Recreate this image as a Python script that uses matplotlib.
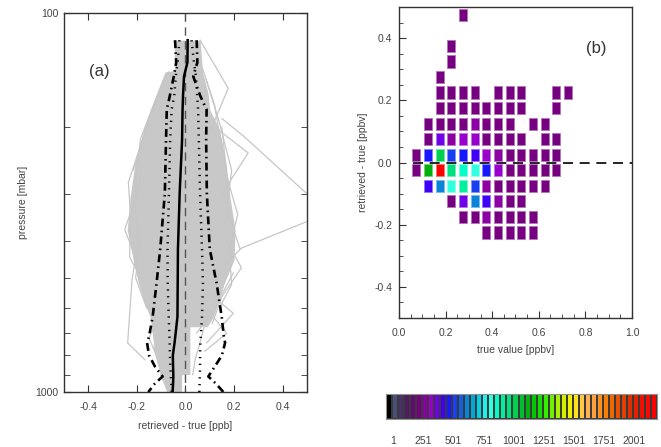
import numpy as np
import matplotlib
matplotlib.use("Agg")
import matplotlib.pyplot as plt
from matplotlib.colors import ListedColormap, BoundaryNorm, to_rgb
from matplotlib.ticker import FixedLocator, NullFormatter, MultipleLocator

plt.rcParams['font.family'] = ['Liberation Sans', 'DejaVu Sans']

# ---------------- panel (a): profiles of retrieved - true ----------------
# pressure levels [mbar] of the statistics lines
p_stat = [118, 135, 147, 165, 180, 216, 300, 420, 516, 633, 714, 742, 800, 858, 910, 950, 1000]
mean_diff = [0.009, 0.008, -0.006, -0.010, -0.012, -0.014, -0.024, -0.031, -0.032, -0.033, -0.042,
             -0.045, -0.052, -0.051, -0.050, -0.051, -0.053]
std_lo = [-0.025, -0.032, -0.040, -0.046, -0.057, -0.063, -0.068, -0.074, -0.073, -0.069, -0.066,
          -0.065, -0.064, -0.062, -0.060, -0.058, -0.057]
std_hi = [0.025, 0.035, 0.043, 0.048, 0.052, 0.055, 0.060, 0.068, 0.072, 0.068, 0.063, 0.061,
          0.060, 0.060, 0.059, 0.058, 0.057]
rms_lo = [-0.043, -0.038, -0.048, -0.064, -0.077, -0.080, -0.085, -0.104, -0.119, -0.135, -0.150,
          -0.158, -0.150, -0.125, -0.094, -0.126, -0.153]
rms_hi = [0.046, 0.049, 0.032, 0.060, 0.087, 0.085, 0.088, 0.100, 0.128, 0.149, 0.158, 0.163,
          0.150, 0.120, 0.094, 0.125, 0.156]

# envelope of the bundle of individual profiles
p_env = [118, 142, 143, 163, 180, 203, 249, 306, 373, 448, 516, 580, 633, 672, 673, 760, 899, 900, 1000]
env_lo = [-0.046, -0.046, -0.084, -0.119, -0.140, -0.172, -0.208, -0.228, -0.240, -0.215, -0.194,
          -0.170, -0.146, -0.140, -0.140, -0.130, -0.105, -0.105, -0.077]
env_hi = [0.060, 0.070, 0.070, 0.093, 0.100, 0.140, 0.167, 0.183, 0.204, 0.200, 0.160, 0.135,
          0.115, 0.090, 0.018, 0.018, 0.018, -0.016, -0.016]

# single profiles that stick out of (or fray the edge of) the bundle
outliers = [
    ([118, 158, 216], [0.060, 0.176, 0.087]),
    ([190, 211, 296, 325, 355, 417, 470], [0.150, 0.238, 0.490, 0.580, 0.500, 0.231, 0.150]),
    ([200, 234, 300], [0.120, 0.258, 0.150]),
    ([420, 506, 742, 822], [-0.200, -0.220, -0.238, -0.167]),
    ([550, 620, 742], [0.100, 0.197, 0.087]),
    ([485, 600, 699], [0.197, 0.120, 0.046]),
    ([300, 373, 450], [-0.200, -0.250, -0.200]),
    ([150, 190, 260], [-0.090, -0.150, -0.215]),
    ([140, 175, 230], [0.070, 0.120, 0.150]),
    ([760, 850, 1000], [-0.130, -0.110, -0.060]),
    ([640, 700, 780], [0.120, 0.170, 0.080]),
    ([143, 170, 215, 260, 330], [-0.070, -0.125, -0.185, -0.200, -0.215]),
    ([160, 200, 280, 350, 440, 520], [-0.100, -0.160, -0.235, -0.225, -0.230, -0.170]),
    ([250, 330, 410, 500, 600], [-0.180, -0.205, -0.190, -0.205, -0.160]),
    ([150, 190, 260, 330, 420], [0.085, 0.135, 0.190, 0.170, 0.225]),
    ([200, 270, 340, 420, 520, 600], [0.150, 0.170, 0.215, 0.180, 0.190, 0.140]),
    ([400, 470, 560, 660], [0.170, 0.230, 0.150, 0.110]),
    ([560, 650, 720, 800], [-0.170, -0.120, -0.150, -0.120]),
    ([660, 740, 820, 900], [0.080, 0.060, 0.040, 0.030]),
]

# ---------------- panel (b): 2D histogram ----------------
bin_x = [0.075, 0.125, 0.175, 0.225, 0.275, 0.325, 0.375, 0.425, 0.475, 0.525, 0.575, 0.625, 0.675, 0.725]
bin_y = [0.475, 0.425, 0.375, 0.325, 0.275, 0.225, 0.175, 0.125, 0.075, 0.025, -0.025, -0.075, -0.125,
         -0.175, -0.225]
counts = [
    [0, 0, 0, 0, 215, 0, 0, 0, 0, 0, 0, 0, 0, 0],
    [0, 0, 0, 0, 0, 0, 0, 0, 0, 0, 0, 0, 0, 0],
    [0, 0, 0, 215, 0, 0, 0, 0, 0, 0, 0, 0, 0, 0],
    [0, 0, 0, 215, 0, 0, 0, 0, 0, 0, 0, 0, 0, 0],
    [0, 0, 215, 0, 0, 0, 0, 0, 0, 0, 0, 0, 0, 0],
    [0, 0, 215, 215, 215, 215, 0, 215, 215, 215, 0, 0, 215, 215],
    [0, 0, 215, 215, 215, 215, 215, 215, 215, 215, 0, 0, 215, 0],
    [0, 215, 215, 215, 215, 265, 215, 215, 215, 0, 215, 215, 0, 0],
    [0, 215, 365, 265, 315, 315, 215, 215, 215, 215, 0, 215, 215, 0],
    [215, 465, 1015, 515, 465, 415, 315, 265, 215, 215, 215, 215, 215, 0],
    [215, 1115, 2165, 965, 865, 815, 465, 315, 215, 215, 215, 215, 215, 0],
    [0, 415, 615, 815, 915, 515, 265, 215, 215, 215, 215, 215, 0, 0],
    [0, 0, 0, 215, 365, 615, 415, 265, 215, 215, 0, 0, 0, 0],
    [0, 0, 0, 0, 215, 215, 265, 215, 215, 215, 215, 0, 0, 0],
    [0, 0, 0, 0, 0, 0, 215, 215, 215, 215, 215, 0, 0, 0],
]

cbar_labels = [1, 251, 501, 751, 1001, 1251, 1501, 1751, 2001]

# colour table of the plot (one colour per 50 counts)
table = ['#000000', '#48507a', '#4a3068', '#501a60', '#620a70', '#760080', '#8c00a4', '#9a00cc',
         '#7000e8', '#4000f8', '#1818ff', '#1840f0', '#1060e0', '#0a84d8', '#00a8d8', '#00d0e8',
         '#20f0f0', '#30ffe0', '#00ffc8', '#00f0a0', '#00e080', '#00d050', '#00c030', '#00b010',
         '#00c800', '#10e000', '#30f000', '#70f000', '#a8f000', '#d0f000', '#f0f000', '#ffe020',
         '#ffc840', '#ffb050', '#ffa040', '#ff9020', '#f88000', '#f06800', '#e85000', '#e04000',
         '#e03000', '#e82000', '#f01000', '#f80800', '#ff0000']
edges = [-60 + 50 * k for k in range(len(table) + 1)]
cmap = ListedColormap(table)
norm = BoundaryNorm(edges, cmap.N)

FRAME = '#333333'
TXT = '#444444'
GREY = '#c6c6c6'

fig = plt.figure(figsize=(6.61, 4.47), dpi=100)

# ---- (a)
ax1 = fig.add_axes([0.0968, 0.123, 0.3676, 0.848])
ax1.set_yscale('log')
ax1.set_ylim(1000, 100)
ax1.set_xlim(-0.5, 0.5)
ax1.fill_betweenx(p_env, env_lo, env_hi, color='#c8c8c8', lw=0, zorder=1)
for pp, vv in outliers:
    ax1.plot(vv, pp, color=GREY, lw=0.9, zorder=1)
ax1.plot([0, 0], [100, 1000], color='#555555', lw=1.0, dashes=(6, 4), zorder=2)
ax1.plot(mean_diff, p_stat, color='black', lw=1.8, zorder=3)
dots = (0, (0.5, 2.2))
ax1.plot(std_lo, p_stat, color='black', lw=1.8, ls=dots, zorder=3)
ax1.plot(std_hi, p_stat, color='black', lw=1.8, ls=dots, zorder=3)
dashdot = (0, (3, 1.6, 0.6, 1.6))
ax1.plot(rms_lo, p_stat, color='black', lw=1.9, ls=dashdot, zorder=3)
ax1.plot(rms_hi, p_stat, color='black', lw=1.9, ls=dashdot, zorder=3)

ax1.yaxis.set_major_locator(FixedLocator([100, 1000]))
ax1.yaxis.set_minor_locator(FixedLocator([200, 300, 400, 500, 600, 700, 800, 900]))
ax1.yaxis.set_minor_formatter(NullFormatter())
ax1.set_yticklabels(['100', '1000'])
ax1.set_xticks([-0.4, -0.2, 0.0, 0.2, 0.4])
ax1.set_xticklabels(['-0.4', '-0.2', '0.0', '0.2', '0.4'])
ax1.tick_params(which='both', direction='in', top=True, right=True, color=FRAME,
                labelsize=7.5, labelcolor=TXT)
ax1.tick_params(which='major', length=5)
ax1.tick_params(which='minor', length=4)
ax1.tick_params(axis='x', pad=7)
ax1.tick_params(axis='y', pad=4)
ax1.set_xlabel('retrieved - true [ppb]', fontsize=7.5, color=TXT, labelpad=7)
ax1.set_ylabel('pressure [mbar]', fontsize=7.5, color=TXT, labelpad=5)
ax1.text(0.145, 0.845, '(a)', transform=ax1.transAxes, fontsize=12, color='#333333',
         ha='center', va='center')
for s in ax1.spines.values():
    s.set_color(FRAME)
    s.set_linewidth(1.0)

# ---- (b)
ax2 = fig.add_axes([0.6036, 0.2886, 0.3525, 0.6957])
ax2.set_xlim(0, 1.0)
ax2.set_ylim(-0.5, 0.5)
cw, ch = 0.034, 0.039
for row, yc in zip(counts, bin_y):
    xs = [x for x, c in zip(bin_x, row) if c > 0]
    cs = [c for c in row if c > 0]
    if not xs:
        continue
    fc = [cmap(norm(c)) for c in cs]
    ec = [tuple(0.55 * np.array(to_rgb(f)) + 0.45) for f in fc]
    ax2.bar(xs, ch, width=cw, bottom=yc - ch / 2, color=fc, edgecolor=ec, linewidth=0.6, zorder=2)
ax2.plot([0.06, 1.0], [0, 0], color='black', lw=1.2, dashes=(6, 4), zorder=3)
ax2.xaxis.set_major_locator(MultipleLocator(0.2))
ax2.xaxis.set_minor_locator(MultipleLocator(0.05))
ax2.yaxis.set_major_locator(MultipleLocator(0.2))
ax2.yaxis.set_minor_locator(MultipleLocator(0.05))
ax2.tick_params(which='both', direction='in', color=FRAME, labelsize=7.5, labelcolor=TXT)
ax2.tick_params(which='major', length=5)
ax2.tick_params(which='minor', length=3)
ax2.tick_params(axis='x', pad=7)
ax2.tick_params(axis='y', pad=5)
ax2.xaxis.set_major_formatter(lambda v, pos: f'{v:.1f}')
ax2.yaxis.set_major_formatter(lambda v, pos: f'{v:.1f}'.replace('-0.0', '0.0'))
ax2.set_xlabel('true value [ppbv]', fontsize=7.5, color=TXT, labelpad=5)
ax2.set_ylabel('retrieved - true [ppbv]', fontsize=7.5, color=TXT, labelpad=4)
ax2.text(0.845, 0.865, '(b)', transform=ax2.transAxes, fontsize=12, color='#333333',
         ha='center', va='center')
for s in ax2.spines.values():
    s.set_color(FRAME)
    s.set_linewidth(1.0)

# ---- colour bar
ax3 = fig.add_axes([0.584, 0.0626, 0.41, 0.056])
mid = [(a + b) / 2 for a, b in zip(edges[:-1], edges[1:])]
ax3.pcolormesh(edges, [0, 1], [mid], cmap=cmap, norm=norm, edgecolors='#3a3a3a', linewidth=0.35)
ax3.set_xlim(edges[0], edges[-1])
ax3.set_ylim(0, 1)
ax3.set_yticks([])
ax3.set_xticks(cbar_labels)
ax3.set_xticklabels([str(v) for v in cbar_labels])
ax3.tick_params(axis='x', length=0, pad=12, labelsize=7.5, labelcolor=TXT)
for s in ax3.spines.values():
    s.set_color('#909090')
    s.set_linewidth(0.8)

fig.savefig('out.png', dpi=100)
